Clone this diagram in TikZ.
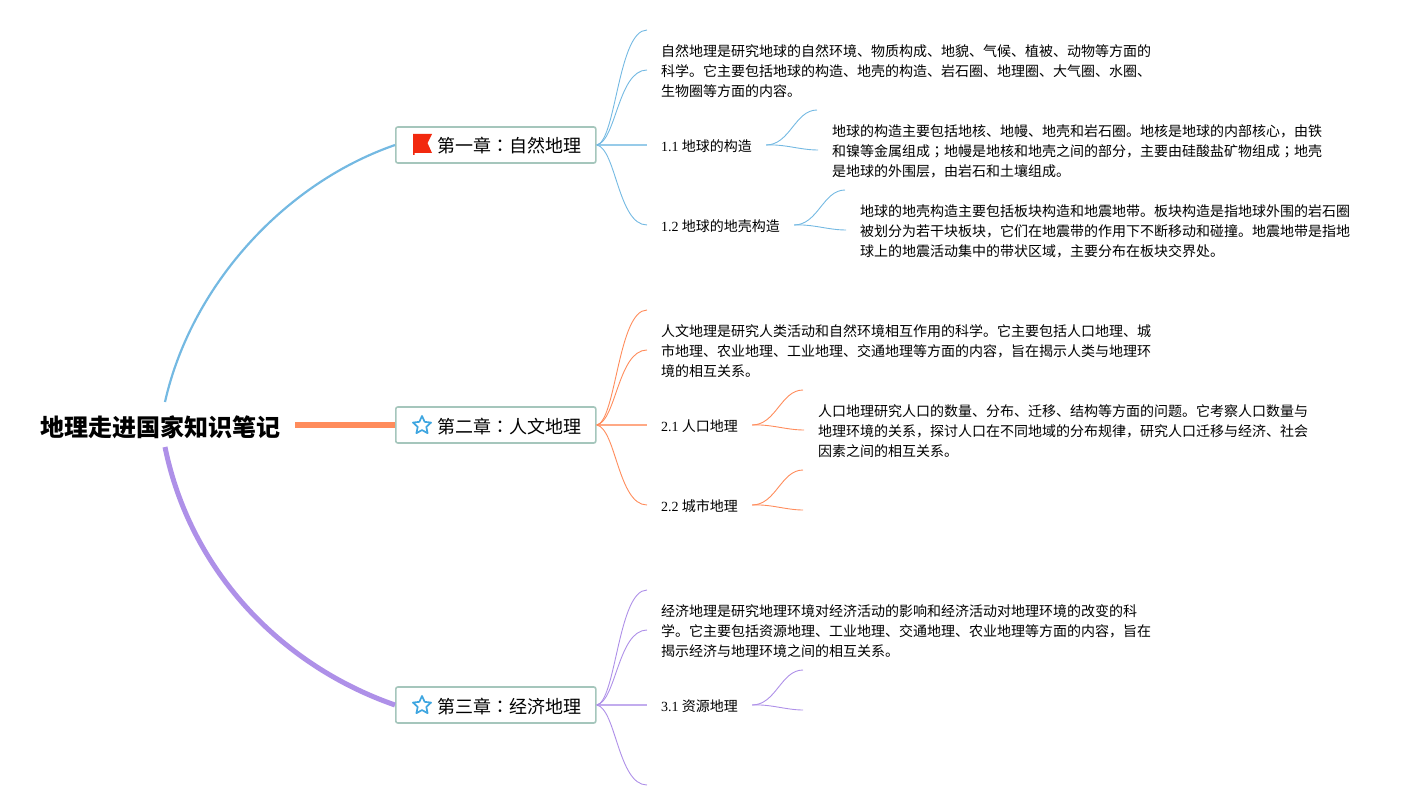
\documentclass[tikz,border=0pt]{standalone}
\usepackage{fontspec}
\setmainfont{Noto Sans CJK SC}
\newfontfamily\numfont{Liberation Serif}
\newfontfamily\colonfont{Noto Sans CJK TC}
\usetikzlibrary{shapes.geometric}
\definecolor{bluebr}{HTML}{74B9E2}
\definecolor{orangebr}{HTML}{FF8C5C}
\definecolor{purplebr}{HTML}{AE90E8}
\definecolor{boxline}{HTML}{A5C6BC}
\definecolor{starblue}{HTML}{3FA6E0}
\definecolor{flagred}{HTML}{F2290F}
\tikzset{
  rootnode/.style={font=\fontsize{24}{28}\selectfont\bfseries, inner xsep=14pt, inner ysep=2pt},
  chapbox/.style={draw=boxline, line width=1.6pt, rounded corners=2pt, fill=white, anchor=west,
    minimum height=36pt, inner xsep=0pt, inner ysep=0pt, text height=17pt, text depth=1pt,
    font=\fontsize{18}{22}\selectfont,
    execute at begin node=\hspace*{42pt}, execute at end node=\hspace*{14pt}},
  labelnode/.style={anchor=west, inner xsep=14pt, inner ysep=1pt, text height=14pt, text depth=1.4pt,
    font=\fontsize{14}{20}\selectfont},
  textnode/.style={anchor=west, align=left, inner xsep=14pt, inner ysep=1pt, font=\fontsize{14}{20}\selectfont},
  branch/.style={line width=0.9pt},
  flatbranch/.style={line width=1.4pt, opacity=0.75},
  starmark/.style={star, star points=5, star point ratio=2.1, draw=starblue, line width=1.7pt,
    line join=round, minimum size=19pt, inner sep=0pt},
}
\newcommand{\nm}[1]{{\numfont #1}}
\newcommand{\cn}{{\colonfont ：}}
\newcommand{\sm}{{\colonfont ；}}
\begin{document}
\begin{tikzpicture}[x=1pt,y=-1pt]
\useasboundingbox (0,0) rectangle (1420,810);

% root and chapters
\node[rootnode, anchor=east] (root) at (295,427) {地理走进国家知识笔记};
\node[chapbox] (ch1) at (395,145) {第一章\cn 自然地理};
\node[chapbox] (ch2) at (395,425) {第二章\cn 人文地理};
\node[chapbox] (ch3) at (395,705) {第三章\cn 经济地理};

\coordinate (arctop) at (165,402);
\coordinate (arcbot) at (165,447);
\draw[bluebr, line width=2.2pt] (arctop) .. controls (190,290) and (280,185) .. (ch1.west);
\draw[orangebr, line width=6pt] (root.east |- ch2.west) -- (ch2.west);
\draw[purplebr, line width=5pt] (arcbot) .. controls (190,570) and (280,665) .. (ch3.west);

% icons
\fill[flagred] (413,134) -- (432,134) -- (427.5,143) -- (432,153) -- (414.5,153) -- (414.5,155) -- (413,155) -- cycle;
\node[starmark] (star2) at (422,425.5) {};
\node[starmark] (star3) at (422,705.5) {};

% chapter one
\node[textnode] (t1) at (647,71) {自然地理是研究地球的自然环境、物质构成、地貌、气候、植被、动物等方面的\\科学。它主要包括地球的构造、地壳的构造、岩石圈、地理圈、大气圈、水圈、\\生物圈等方面的内容。};
\node[labelnode] (l11) at (647,145) {\nm{1.1} 地球的构造};
\node[labelnode] (l12) at (647,225) {\nm{1.2} 地球的地壳构造};
\node[textnode] (t11) at (818,151) {地球的构造主要包括地核、地幔、地壳和岩石圈。地核是地球的内部核心，由铁\\和镍等金属组成\sm 地幔是地核和地壳之间的部分，主要由硅酸盐矿物组成\sm 地壳\\是地球的外围层，由岩石和土壤组成。};
\node[textnode] (t12) at (846,231) {地球的地壳构造主要包括板块构造和地震地带。板块构造是指地球外围的岩石圈\\被划分为若干块板块，它们在地震带的作用下不断移动和碰撞。地震地带是指地\\球上的地震活动集中的带状区域，主要分布在板块交界处。};
\coordinate (e1) at (647,30);
\coordinate (e11) at (817,110);
\coordinate (e12) at (845,190);

\draw[bluebr, branch] (ch1.east) .. controls (616,142) and (618,30) .. (e1);
\draw[bluebr, branch] (ch1.east) .. controls (616,142) and (618,70) .. ([yshift=1pt]t1.west);
\draw[bluebr, flatbranch] (ch1.east) -- (l11.west);
\draw[bluebr, branch] (ch1.east) .. controls (616,148) and (618,225) .. (l12.west);
\draw[bluebr, branch] (l11.east) .. controls (790,145) and (795,110) .. (e11);
\draw[bluebr, branch] (l11.east) .. controls (785,144) and (800,150) .. ([yshift=1pt]t11.west);
\draw[bluebr, branch] (l12.east) .. controls (818,225) and (823,190) .. (e12);
\draw[bluebr, branch] (l12.east) .. controls (813,224) and (828,230) .. ([yshift=1pt]t12.west);

% chapter two
\node[textnode] (t2) at (647,351) {人文地理是研究人类活动和自然环境相互作用的科学。它主要包括人口地理、城\\市地理、农业地理、工业地理、交通地理等方面的内容，旨在揭示人类与地理环\\境的相互关系。};
\node[labelnode] (l21) at (647,425) {\nm{2.1} 人口地理};
\node[labelnode] (l22) at (647,505) {\nm{2.2} 城市地理};
\node[textnode] (t21) at (804,431) {人口地理研究人口的数量、分布、迁移、结构等方面的问题。它考察人口数量与\\地理环境的关系，探讨人口在不同地域的分布规律，研究人口迁移与经济、社会\\因素之间的相互关系。};
\coordinate (e2) at (647,310);
\coordinate (e21) at (803,390);
\coordinate (e22a) at (803,470);
\coordinate (e22b) at (803,510);

\draw[orangebr, branch] (ch2.east) .. controls (616,422) and (618,310) .. (e2);
\draw[orangebr, branch] (ch2.east) .. controls (616,422) and (618,350) .. ([yshift=1pt]t2.west);
\draw[orangebr, flatbranch] (ch2.east) -- (l21.west);
\draw[orangebr, branch] (ch2.east) .. controls (616,428) and (618,505) .. (l22.west);
\draw[orangebr, branch] (l21.east) .. controls (776,425) and (781,390) .. (e21);
\draw[orangebr, branch] (l21.east) .. controls (771,424) and (786,430) .. ([yshift=1pt]t21.west);
\draw[orangebr, branch] (l22.east) .. controls (776,505) and (781,470) .. (e22a);
\draw[orangebr, branch] (l22.east) .. controls (771,504) and (786,510) .. (e22b);

% chapter three
\node[textnode] (t3) at (647,631) {经济地理是研究地理环境对经济活动的影响和经济活动对地理环境的改变的科\\学。它主要包括资源地理、工业地理、交通地理、农业地理等方面的内容，旨在\\揭示经济与地理环境之间的相互关系。};
\node[labelnode] (l31) at (647,705) {\nm{3.1} 资源地理};
\coordinate (e3) at (647,590);
\coordinate (e3b) at (647,785);
\coordinate (e31a) at (803,670);
\coordinate (e31b) at (803,710);

\draw[purplebr, branch] (ch3.east) .. controls (616,702) and (618,590) .. (e3);
\draw[purplebr, branch] (ch3.east) .. controls (616,702) and (618,630) .. ([yshift=1pt]t3.west);
\draw[purplebr, flatbranch] (ch3.east) -- (l31.west);
\draw[purplebr, branch] (ch3.east) .. controls (616,708) and (618,785) .. (e3b);
\draw[purplebr, branch] (l31.east) .. controls (776,705) and (781,670) .. (e31a);
\draw[purplebr, branch] (l31.east) .. controls (771,704) and (786,710) .. (e31b);
\end{tikzpicture}
\end{document}
